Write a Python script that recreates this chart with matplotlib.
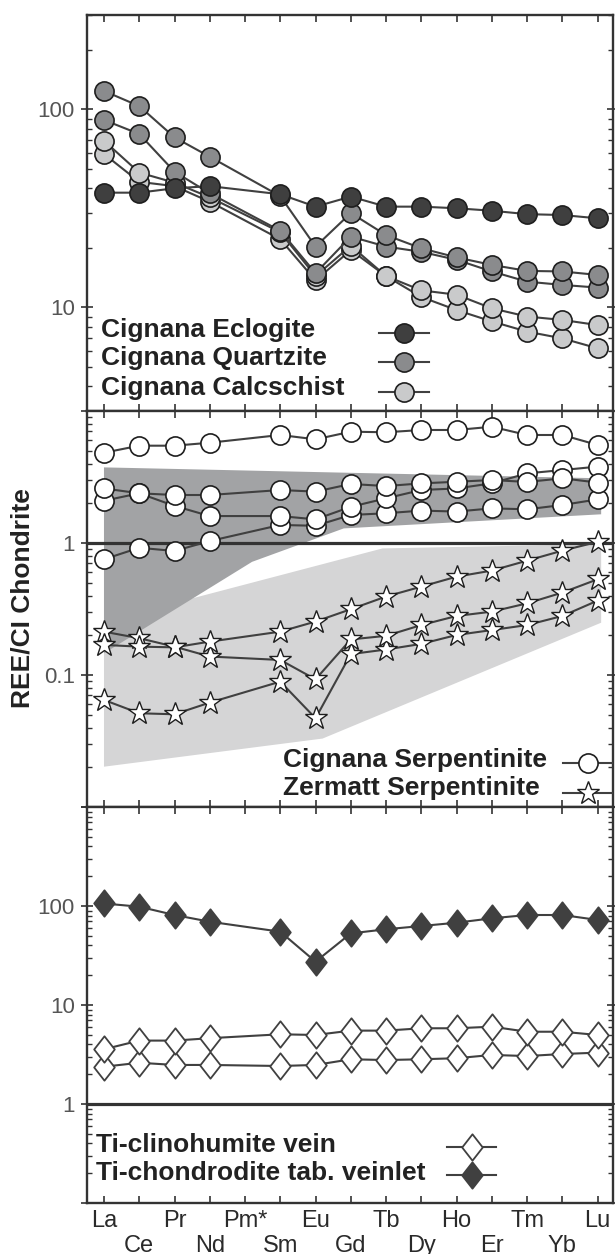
import matplotlib
matplotlib.use("Agg")
import matplotlib.pyplot as plt
from matplotlib.path import Path
from matplotlib.ticker import FixedLocator, FixedFormatter, LogLocator, NullFormatter

plt.rcParams['font.family'] = ['Liberation Sans', 'DejaVu Sans']

# ---------------- data ----------------
elements = ["La", "Ce", "Pr", "Nd", "Pm*", "Sm", "Eu", "Gd", "Tb", "Dy", "Ho", "Er", "Tm", "Yb", "Lu"]
ree = ["La", "Ce", "Pr", "Nd", "Sm", "Eu", "Gd", "Tb", "Dy", "Ho", "Er", "Tm", "Yb", "Lu"]  # Pm not analysed

eclogite = [38.0, 38.0, 40.0, 41.0, 37.3, 32.3, 36.3, 32.3, 32.3, 31.7, 30.8, 29.6, 29.3, 28.2]
quartzite_1 = [124, 104, 72.3, 57.7, 36.5, 20.3, 30.0, 23.2, 19.9, 17.9, 16.4, 15.3, 15.2, 14.6]
quartzite_2 = [88.5, 75.2, 48.5, 37.7, 24.4, 14.9, 22.8, 20.3, 19.1, 17.4, 15.2, 13.5, 13.0, 12.6]
calcschist_1 = [69.5, 48.0, 42.7, 36.0, 24.0, 14.4, 20.5, 14.4, 12.2, 11.6, 9.9, 9.0, 8.65, 8.15]
calcschist_2 = [59.6, 43.1, 41.0, 34.2, 22.1, 13.7, 19.5, 14.4, 11.3, 9.7, 8.5, 7.55, 6.98, 6.22]

cignana_serp_1 = [4.83, 5.46, 5.46, 5.75, 6.58, 6.10, 6.97, 6.90, 7.18, 7.18, 7.60, 6.58, 6.58, 5.53]
cignana_serp_2 = [2.59, 2.38, 2.31, 2.31, 2.52, 2.45, 2.80, 2.70, 2.83, 2.91, 3.00, 2.90, 3.09, 2.87]
cignana_serp_3 = [2.09, 2.38, 1.91, 1.60, 1.60, 1.51, 1.88, 2.18, 2.52, 2.59, 2.83, 3.37, 3.57, 3.79]
cignana_serp_4 = [0.753, 0.92, 0.87, 1.035, 1.37, 1.35, 1.63, 1.68, 1.76, 1.73, 1.83, 1.80, 1.94, 2.14]

zermatt_1 = [0.213, 0.190, 0.164, 0.138, 0.130, 0.0927, 0.186, 0.198, 0.239, 0.280, 0.302, 0.349, 0.421, 0.531]
zermatt_2 = [0.169, 0.164, 0.162, 0.179, 0.213, 0.254, 0.315, 0.393, 0.467, 0.556, 0.618, 0.735, 0.875, 1.02]
zermatt_3 = [0.0647, 0.0513, 0.0504, 0.0618, 0.0891, 0.0470, 0.144, 0.156, 0.172, 0.201, 0.219, 0.239, 0.280, 0.366]

# field envelopes (x = element position, y = value)
dark_field_x = [1.0, 15.1, 15.1, 7.8, 5.2, 1.0]
dark_field_y = [3.74, 3.09, 1.65, 1.29, 0.72, 0.146]
light_field_x = [1.0, 8.9, 15.1, 15.1, 7.2, 1.0]
light_field_y = [0.254, 0.91, 0.98, 0.249, 0.033, 0.0202]

ti_chondrodite = [106, 98.4, 81.1, 69.4, 55.0, 27.4, 52.9, 58.2, 62.8, 67.8, 75.1, 81.1, 81.1, 72.3]
ti_clinohumite_1 = [3.57, 4.37, 4.37, 4.62, 5.06, 4.98, 5.51, 5.51, 5.82, 5.82, 6.04, 5.37, 5.37, 4.98]
ti_clinohumite_2 = [2.38, 2.61, 2.48, 2.48, 2.42, 2.48, 2.83, 2.78, 2.83, 2.90, 3.13, 3.05, 3.20, 3.30]

# ---------------- layout ----------------
W, H = 615, 1254
PX_LEFT, PX_RIGHT = 86.7, 613.5
PANEL_H = 396.0
panel_bottoms = [411.0, 807.0, 1203.0]

fig = plt.figure(figsize=(W / 100, H / 100), dpi=100)
axes = []
for pb in panel_bottoms:
    ax = fig.add_axes([PX_LEFT / W, 1 - pb / H, (PX_RIGHT - PX_LEFT) / W, PANEL_H / H])
    axes.append(ax)

xpos = {e: i + 1 for i, e in enumerate(elements)}
xr = [xpos[e] for e in ree]

LINE_C = '#404040'
EDGE_C = '#1e1e1e'
SPINE_C = '#333333'

diamond = Path([(0, 1), (0.78, 0), (0, -1), (-0.78, 0), (0, 1)],
               [Path.MOVETO, Path.LINETO, Path.LINETO, Path.LINETO, Path.CLOSEPOLY])

circ_kw = dict(marker='o', ms=13.8, mew=1.2, mec=EDGE_C, color=LINE_C, lw=1.5)
star_kw = dict(marker='*', ms=17, mew=1.0, mec=EDGE_C, mfc='white', color=LINE_C, lw=1.5)
dia_kw = dict(marker=diamond, ms=19, mew=1.3, mec=LINE_C, color=LINE_C, lw=1.5)

ECL_C, QTZ_C, CAL_C = '#3f3f3f', '#8a8b8d', '#c9cacb'

# top panel
ax = axes[0]
for s in (calcschist_2, calcschist_1):
    ax.plot(xr, s, mfc=CAL_C, **circ_kw)
for s in (quartzite_2, quartzite_1):
    ax.plot(xr, s, mfc=QTZ_C, **circ_kw)
ax.plot(xr, eclogite, mfc=ECL_C, **circ_kw)
ax.set_ylim(3, 300)

# middle panel
ax = axes[1]
ax.fill(light_field_x, light_field_y, color='#d5d5d6', lw=0, zorder=1)
ax.fill(dark_field_x, dark_field_y, color='#a2a3a5', lw=0, zorder=1.1)
ax.axhline(1, color=SPINE_C, lw=2.3, zorder=1.5)
for s in (zermatt_3, zermatt_1, zermatt_2):
    ax.plot(xr, s, zorder=2, **star_kw)
for s in (cignana_serp_4, cignana_serp_3, cignana_serp_2, cignana_serp_1):
    ax.plot(xr, s, mfc='white', zorder=2.5, **circ_kw)
ax.set_ylim(0.01, 10)

# bottom panel
ax = axes[2]
ax.axhline(1, color=SPINE_C, lw=2.3, zorder=1.5)
for s in (ti_clinohumite_2, ti_clinohumite_1):
    ax.plot(xr, s, mfc='white', zorder=2, **dia_kw)
ax.plot(xr, ti_chondrodite, mfc=LINE_C, zorder=2.5, **dia_kw)
ax.set_ylim(0.1, 1000)

# ---------------- axes styling ----------------
ylabels = [([10, 100], ['10', '100']),
           ([0.01, 0.1, 1, 10], ['', '0.1', '1', '']),
           ([0.1, 1, 10, 100, 1000], ['', '1', '10', '100', ''])]
for i, ax in enumerate(axes):
    ax.set_yscale('log')
    ax.set_xlim(0.51, 15.45)
    ax.set_xticks(range(1, 16))
    ax.yaxis.set_major_locator(FixedLocator(ylabels[i][0]))
    ax.yaxis.set_major_formatter(FixedFormatter(ylabels[i][1]))
    ax.yaxis.set_minor_locator(LogLocator(base=10, subs=range(2, 10), numticks=20))
    ax.yaxis.set_minor_formatter(NullFormatter())
    for sp in ax.spines.values():
        sp.set_color(SPINE_C)
        sp.set_linewidth(1.7)
    ax.tick_params(axis='both', which='both', direction='in', color=SPINE_C,
                   top=True, right=True)
    ax.tick_params(axis='x', which='major', length=5, width=1.2, labelsize=17,
                   labelcolor='#2a2a2a', pad=5)
    ax.tick_params(axis='y', which='major', direction='inout', length=8, width=1.2,
                   labelsize=16, labelcolor='#555555', pad=4.5)
    ax.tick_params(axis='y', which='minor', length=3.6, width=1.0)
    if i < 2:
        ax.set_xticklabels([])
    else:
        ax.set_xticklabels([e if k % 2 == 0 else '\n' + e for k, e in enumerate(elements)],
                           linespacing=1.2)

fig.text(23 / W, 1 - 598 / H, 'REE/CI Chondrite', rotation=90, fontsize=19,
         fontweight='bold', ha='center', va='center', color='#222222')


# ---------------- legends ----------------
def to_axes(x_px, y_px, bottom_px):
    return (x_px - PX_LEFT) / (PX_RIGHT - PX_LEFT), (bottom_px - y_px) / PANEL_H


def legend_row(ax, bottom_px, label, text_x, baseline, line_x0, line_x1, mark_x, mark_y, kw, **extra):
    tx, ty = to_axes(text_x, baseline, bottom_px)
    ax.text(tx, ty, label, transform=ax.transAxes, fontsize=19, fontweight='bold',
            ha='left', va='baseline', color='#222222')
    x0, y0 = to_axes(line_x0, mark_y, bottom_px)
    x1, _ = to_axes(line_x1, mark_y, bottom_px)
    xm, ym = to_axes(mark_x, mark_y, bottom_px)
    ax.plot([x0, x1], [y0, y0], transform=ax.transAxes, color=LINE_C, lw=1.5,
            clip_on=False, zorder=5)
    mk = {k: v for k, v in kw.items() if k not in ('color', 'lw')}
    mk.update(extra)
    ax.plot([xm], [ym], transform=ax.transAxes, lw=0, clip_on=False, zorder=6, **mk)


top_rows = [("Cignana Eclogite", 336.7, ECL_C),
            ("Cignana Quartzite", 365.0, QTZ_C),
            ("Cignana Calcschist", 395.0, CAL_C)]
for lab, bl, fc in top_rows:
    legend_row(axes[0], 411.0, lab, 101, bl, 379, 429, 404, bl - 3.4, circ_kw, mfc=fc)

legend_row(axes[1], 807.0, "Cignana Serpentinite", 283, 766.7, 563, 612, 588.5, 763.3,
           circ_kw, mfc='white')
legend_row(axes[1], 807.0, "Zermatt Serpentinite", 283, 795.0, 563, 612, 588.5, 793.3,
           star_kw)

legend_row(axes[2], 1203.0, "Ti-clinohumite vein", 96, 1151.7, 447, 496, 472, 1146.7,
           dia_kw, mfc='white')
legend_row(axes[2], 1203.0, "Ti-chondrodite tab. veinlet", 96, 1180.0, 447, 496, 472, 1175.0,
           dia_kw, mfc=LINE_C)

fig.savefig('out.png', dpi=100)
